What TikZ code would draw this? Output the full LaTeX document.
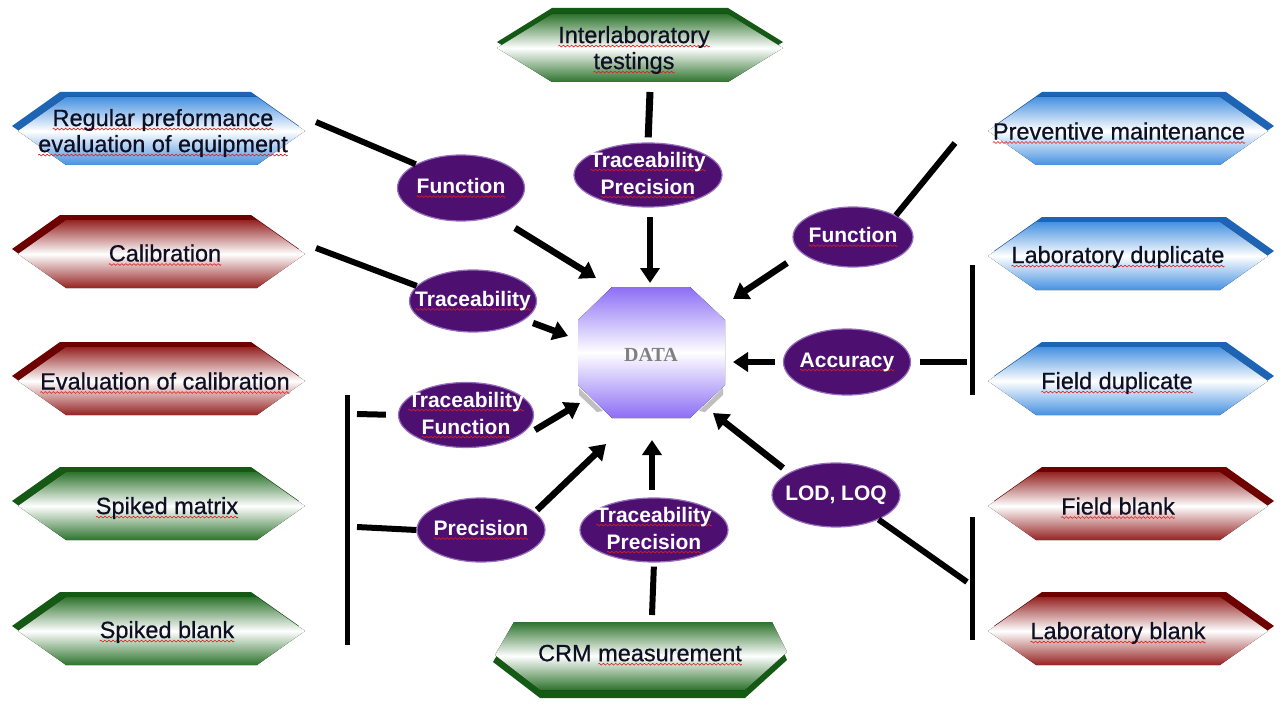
\documentclass[tikz,border=0pt]{standalone}
\usepackage{fontspec}
\setmainfont{Liberation Sans}
\newfontfamily\hexfont[FakeBold=0.6]{Liberation Sans}
\newfontfamily\serifdata{Liberation Serif}
\usetikzlibrary{shapes.geometric,arrows.meta}
\definecolor{bdark}{RGB}{30,100,180}
\definecolor{btop}{RGB}{70,145,225}
\definecolor{rdark}{RGB}{110,0,0}
\definecolor{rtop}{RGB}{150,35,35}
\definecolor{gdark}{RGB}{20,90,20}
\definecolor{gtop}{RGB}{45,115,45}
\definecolor{ovalfill}{RGB}{78,16,112}
\definecolor{ovaledge}{RGB}{150,110,190}
\definecolor{datap}{RGB}{140,110,245}
\definecolor{hexink}{RGB}{15,15,35}
\definecolor{squigred}{RGB}{220,30,30}
\newsavebox\wavebox
\newsavebox\sqtmp
\newcommand\sq[1]{\sbox\sqtmp{#1}\leavevmode\rlap{\lower4pt\hbox to\wd\sqtmp{\xleaders\copy\wavebox\hfil}}\usebox\sqtmp}
% x0, x1, cy, half height, slant, dark colour, shade colour, dx, dy
\newcommand\hexa[9]{%
  \fill[#6, shift={(#8,#9)}] (#1,#3) -- (#1+#5,#3-#4) -- (#2-#5,#3-#4) -- (#2,#3) -- (#2-#5,#3+#4) -- (#1+#5,#3+#4) -- cycle;
  \fill[top color=#7, bottom color=#7, middle color=white] (#1,#3) -- (#1+#5,#3-#4) -- (#2-#5,#3-#4) -- (#2,#3) -- (#2-#5,#3+#4) -- (#1+#5,#3+#4) -- cycle;
}
\begin{document}
\sbox\wavebox{\begin{pgfpicture}%
  \pgfsetlinewidth{0.6pt}\pgfsetstrokecolor{squigred}%
  \pgfpathmoveto{\pgfpointorigin}%
  \pgfpathsine{\pgfpoint{1pt}{0.9pt}}%
  \pgfpathcosine{\pgfpoint{1pt}{-0.9pt}}%
  \pgfpathsine{\pgfpoint{1pt}{-0.9pt}}%
  \pgfpathcosine{\pgfpoint{1pt}{0.9pt}}%
  \pgfusepath{stroke}%
  \pgfresetboundingbox
  \pgfpathrectangle{\pgfpoint{0pt}{-1pt}}{\pgfpoint{4pt}{2pt}}%
  \pgfusepath{use as bounding box}%
\end{pgfpicture}}%
\begin{tikzpicture}[x=1pt,y=-1pt,
  hextext/.style={font=\hexfont\fontsize{23.5}{26}\selectfont, align=center, text=hexink, inner sep=0pt},
  oval/.style={ellipse, fill=ovalfill, draw=ovaledge, line width=1.2pt, text=white, font=\bfseries\fontsize{21}{27}\selectfont, align=center, inner xsep=-20pt, inner ysep=-8pt},
  ln/.style={line width=6pt},
  arr/.style={line width=6.5pt, -{Triangle[width=19pt,length=15pt]}}]
\useasboundingbox (0,0) rectangle (1283,706);
\fill[white] (0,0) rectangle (1283,706);

% hexagons, left column
\hexa{18}{305}{131}{34}{48}{bdark}{btop}{-6}{-5}
\hexa{18}{305}{254}{34}{48}{rdark}{rtop}{-6}{-5}
\hexa{18}{305}{381}{34}{48}{rdark}{rtop}{-6}{-5}
\hexa{18}{305}{506}{34}{48}{gdark}{gtop}{-6}{-5}
\hexa{18}{305}{631}{34}{48}{gdark}{gtop}{-6}{-5}
% right column
\hexa{988}{1268}{131}{34}{48}{bdark}{btop}{6}{-5}
\hexa{988}{1268}{256}{34}{48}{bdark}{btop}{6}{-5}
\hexa{988}{1268}{381}{34}{48}{bdark}{btop}{6}{-5}
\hexa{988}{1268}{506}{34}{48}{rdark}{rtop}{6}{-5}
\hexa{988}{1268}{631}{34}{48}{rdark}{rtop}{6}{-5}
% top
\hexa{497}{783}{48}{34}{55}{gdark}{gtop}{0}{-6}
% bottom
\fill[gdark] (493,662) -- (512,630) -- (774,630) -- (787,660) -- (745,698) -- (540,698) -- cycle;
\fill[top color=gtop, bottom color=gtop, middle color=white] (495,655) -- (514,622) -- (772,622) -- (787,652) -- (745,690) -- (540,690) -- cycle;

% hexagon texts
\node[hextext] (reg) at (163,133) {\sq{Regular preformance}\\\sq{evaluation of equipment}};
\node[hextext] (cal) at (165,255) {\sq{Calibration}};
\node[hextext] (evc) at (165,383) {\sq{Evaluation of calibration}};
\node[hextext] (spm) at (167,508) {\sq{Spiked matrix}};
\node[hextext] (spb) at (167,632) {\sq{Spiked blank}};
\node[hextext] (ilt) at (634,50) {\sq{Interlaboratory}\\\sq{testings}};
\node[hextext] (crm) at (640,655) {CRM \sq{measurement}};
\node[hextext] (pm) at (1119,133) {\sq{Preventive maintenance}};
\node[hextext] (ld) at (1118,257) {\sq{Laboratory duplicate}};
\node[hextext] (fd) at (1117,383) {\sq{Field duplicate}};
\node[hextext] (fb) at (1118,508) {\sq{Field blank}};
\node[hextext] (lb) at (1118,633) {\sq{Laboratory blank}};

% DATA octagon
\fill[black!25] (579,388) -- (603,411) -- (597,412) -- (579,395) -- cycle;
\fill[black!25] (723,388) -- (699,411) -- (705,412) -- (723,395) -- cycle;
\fill[top color=datap, bottom color=datap, middle color=white] (612,287) -- (690,287) -- (725,320) -- (725,385) -- (690,418) -- (612,418) -- (578,385) -- (578,320) -- cycle;
\node[font=\serifdata\bfseries\fontsize{20}{22}\selectfont, text=black!50] (data) at (651,355) {DATA};

% connector end points
\coordinate (regE) at (316,122);
\coordinate (calE) at (316,248);
\coordinate (iltS) at (650,92);
\coordinate (pmW) at (955,143);
\coordinate (crmN) at (652,615);
\coordinate (rbT) at (972,265);
\coordinate (rbB) at (972,395);
\coordinate (rb2T) at (972,517);
\coordinate (rb2B) at (972,640);
\coordinate (rbM) at (967,362);
\coordinate (rb2M) at (967,582);
\coordinate (lbT) at (347,395);
\coordinate (lbB) at (347,645);
\coordinate (lbS1) at (357,414);
\coordinate (lbS2) at (357,527);
% arrow tails and tips
\coordinate (a1s) at (515,228); \coordinate (a1t) at (596,278);
\coordinate (a2s) at (650,217); \coordinate (a2t) at (650,283);
\coordinate (a3s) at (787,263); \coordinate (a3t) at (733,299);
\coordinate (a4s) at (533,323); \coordinate (a4t) at (568,336);
\coordinate (a5s) at (775,362); \coordinate (a5t) at (733,362);
\coordinate (a6s) at (535,430); \coordinate (a6t) at (580,403);
\coordinate (a7s) at (537,510); \coordinate (a7t) at (606,444);
\coordinate (a8s) at (652,490); \coordinate (a8t) at (652,440);
\coordinate (a9s) at (783,468); \coordinate (a9t) at (713,413);

% ovals
\node[oval, minimum width=127pt, minimum height=66pt] (fl) at (461,188) {\sq{Function}};
\node[oval, minimum width=127pt, minimum height=62pt] (tr) at (473,301) {\sq{Traceability}};
\node[oval, minimum width=148pt, minimum height=64pt] (tpt) at (648,175) {\sq{Traceability}\\\sq{Precision}};
\node[oval, minimum width=120pt, minimum height=60pt] (fr) at (853,237) {\sq{Function}};
\node[oval, minimum width=127pt, minimum height=66pt] (acc) at (847,362) {\sq{Accuracy}};
\node[oval, minimum width=128pt, minimum height=64pt] (lod) at (836,495) {LOD, LOQ};
\node[oval, minimum width=135pt, minimum height=65pt] (tf) at (466,415) {\sq{Traceability}\\\sq{Function}};
\node[oval, minimum width=128pt, minimum height=64pt] (prec) at (481,530) {\sq{Precision}};
\node[oval, minimum width=148pt, minimum height=64pt] (tpb) at (654,530) {\sq{Traceability}\\\sq{Precision}};

% plain connectors
\draw[ln] (regE) -- (fl.north west);
\draw[ln] (calE) -- (tr.165);
\draw[ln, line width=7pt, shorten >=5pt] (iltS) -- (tpt.north);
\draw[ln] (pmW) -- (fr.north east);
\draw[ln, shorten >=4pt] (crmN) -- (tpb.south);
\draw[ln, line width=5pt] (rbT) -- (rbB);
\draw[ln, line width=5pt] (rb2T) -- (rb2B);
\draw[ln, shorten <=9pt] (acc.east) -- (rbM);
\draw[ln] (lod.-30) -- (rb2M);
\draw[ln, line width=5pt] (lbT) -- (lbB);
\draw[ln, shorten >=12pt] (lbS1) -- (tf.west);
\draw[ln] (lbS2) -- (prec.west);

% arrows towards DATA
\draw[arr] (a1s) -- (a1t);
\draw[arr] (a2s) -- (a2t);
\draw[arr] (a3s) -- (a3t);
\draw[arr] (a4s) -- (a4t);
\draw[arr] (a5s) -- (a5t);
\draw[arr] (a6s) -- (a6t);
\draw[arr] (a7s) -- (a7t);
\draw[arr] (a8s) -- (a8t);
\draw[arr] (a9s) -- (a9t);
\end{tikzpicture}
\end{document}
